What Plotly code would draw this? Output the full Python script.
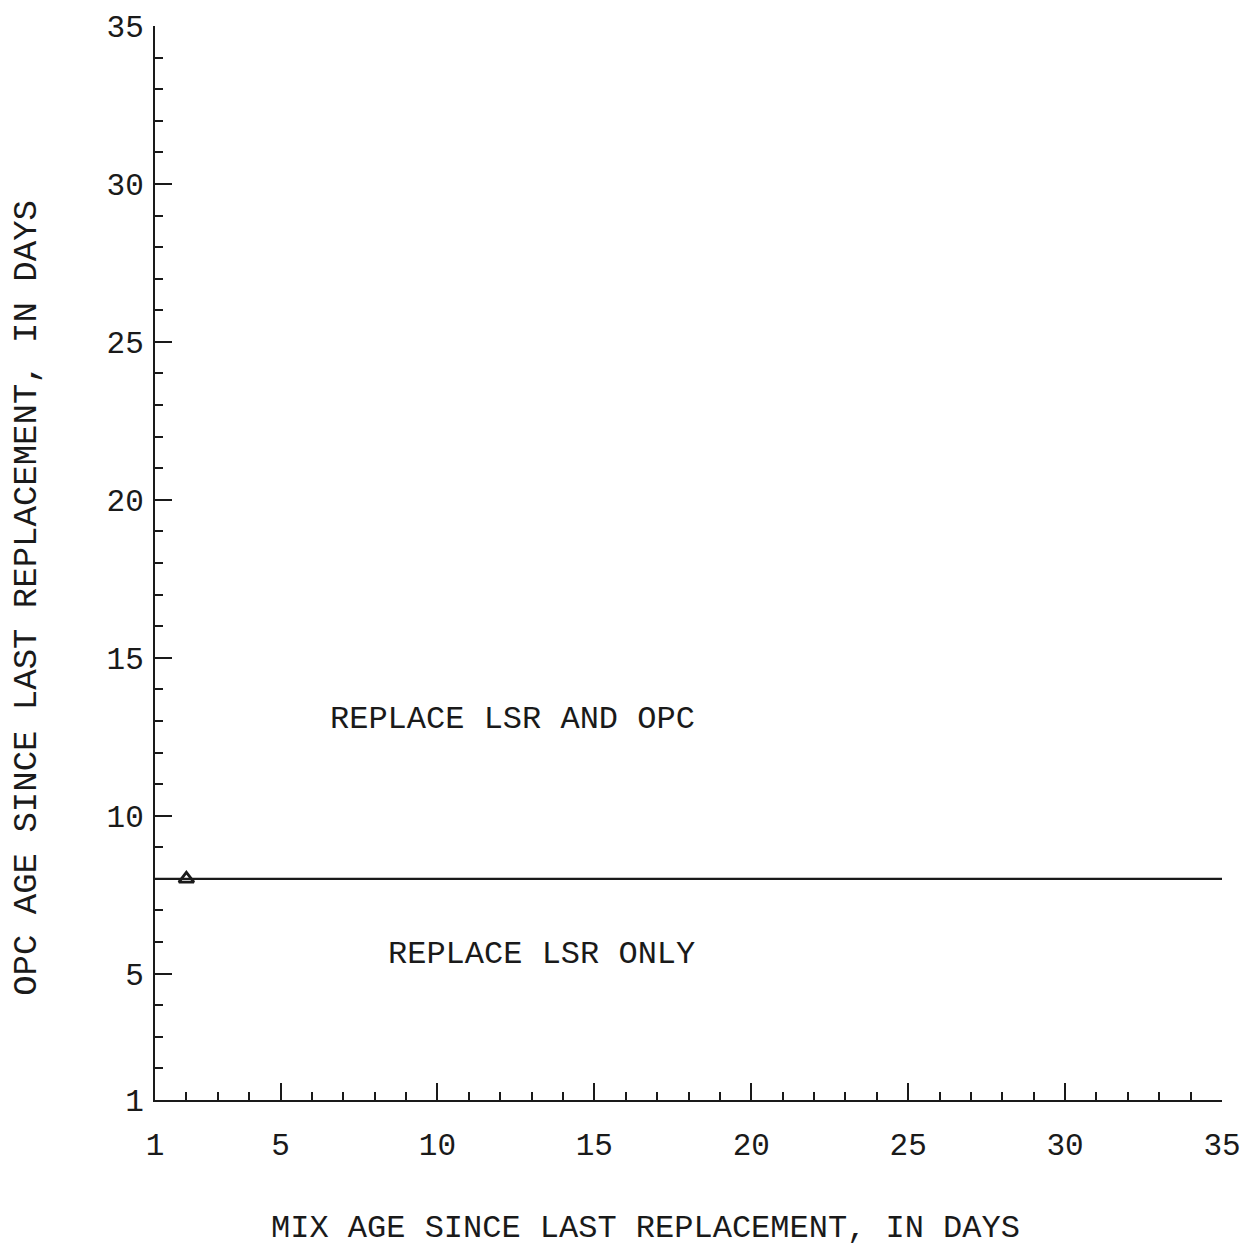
import plotly.graph_objects as go

# Data
boundary_x = [1, 35]
boundary_y = [8, 8]
marker_x = [2]
marker_y = [8]
tick_values = [1, 5, 10, 15, 20, 25, 30, 35]
tick_labels = ["1", "5", "10", "15", "20", "25", "30", "35"]
region_labels = ["REPLACE LSR AND OPC", "REPLACE LSR ONLY"]
region_x = [12.4, 13.3]
region_y = [13.05, 5.6]
x_title = "MIX AGE SINCE LAST REPLACEMENT, IN DAYS"
y_title = "OPC AGE SINCE LAST REPLACEMENT, IN DAYS"

MONO = "Liberation Mono, Courier New, monospace"
INK = "#1a1a1a"

fig = go.Figure()
fig.add_trace(go.Scatter(x=boundary_x, y=boundary_y, mode="lines",
                         line=dict(color=INK, width=2.2), showlegend=False,
                         hoverinfo="skip"))
fig.add_trace(go.Scatter(x=marker_x, y=marker_y, mode="markers",
                         marker=dict(symbol="triangle-up-open", size=13,
                                     color=INK, line=dict(width=2.8, color=INK)),
                         showlegend=False))

for t, xx, yy in zip(region_labels, region_x, region_y):
    fig.add_annotation(x=xx, y=yy, text=t, showarrow=False,
                       font=dict(family=MONO, size=32, color=INK))

# axis titles as annotations so they can sit where the original put them
fig.add_annotation(text=x_title, xref="paper", yref="paper", x=0.46, y=0,
                   xanchor="center", yanchor="middle", yshift=-128,
                   showarrow=False, font=dict(family=MONO, size=32, color=INK))
fig.add_annotation(text=y_title, xref="paper", yref="paper", x=0, y=0.4676,
                   xanchor="center", yanchor="middle", xshift=-128,
                   textangle=-90, showarrow=False,
                   font=dict(family=MONO, size=34, color=INK))

axis_common = dict(
    range=[1, 35], showgrid=False, zeroline=False,
    showline=True, linecolor=INK, linewidth=2,
    ticks="inside", ticklen=17, tickwidth=2, tickcolor=INK,
    tickvals=tick_values, ticktext=tick_labels,
    tickfont=dict(family=MONO, size=31, color=INK),
    ticklabeloverflow="allow",
    minor=dict(ticks="inside", ticklen=8, tickwidth=2, tickcolor=INK,
               tickmode="linear", tick0=0, dtick=1),
    mirror=False,
)

fig.update_xaxes(**axis_common, ticklabelstandoff=16)
fig.update_yaxes(**axis_common, ticklabelstandoff=3)

fig.update_layout(
    width=1244, height=1243,
    margin=dict(l=147, r=30, t=18, b=151, autoexpand=False),
    plot_bgcolor="white", paper_bgcolor="white",
)

fig.write_html("out.html")
